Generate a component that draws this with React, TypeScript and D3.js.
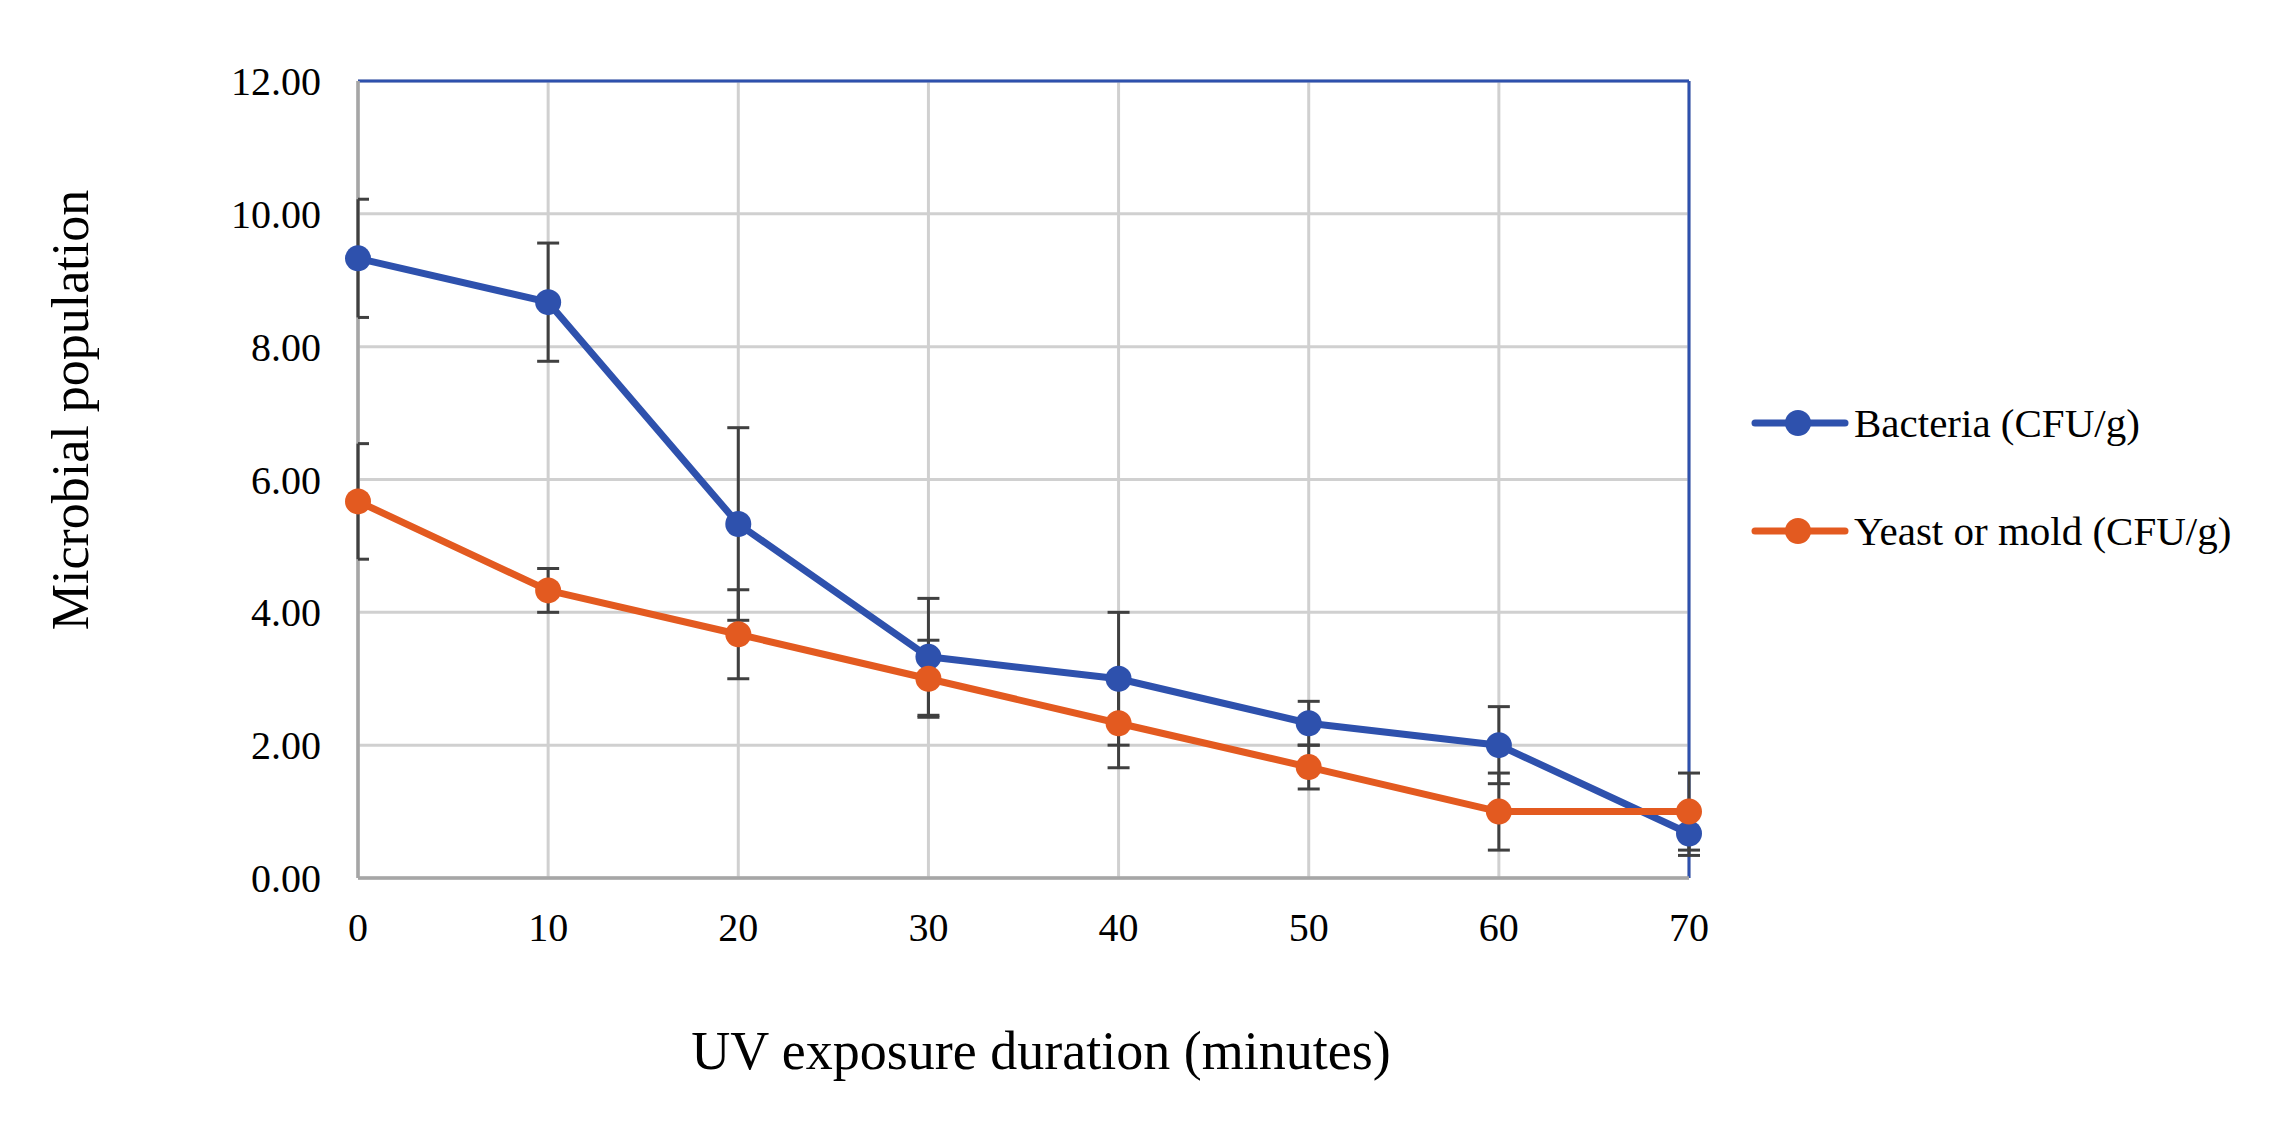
import React from "react";
import * as d3 from "d3";

const minutes = [0, 10, 20, 30, 40, 50, 60, 70];
const bacteria = [9.33, 8.67, 5.33, 3.33, 3.0, 2.33, 2.0, 0.67];
const bacteriaErr = [0.89, 0.89, 1.45, 0.88, 1.0, 0.33, 0.58, 0.33];
const yeast = [5.67, 4.33, 3.67, 3.0, 2.33, 1.67, 1.0, 1.0];
const yeastErr = [0.87, 0.33, 0.67, 0.58, 0.67, 0.33, 0.58, 0.58];
const yTicks = [0, 2, 4, 6, 8, 10, 12];
const xTicks = [0, 10, 20, 30, 40, 50, 60, 70];

const seriesNames = ["Bacteria (CFU/g)", "Yeast or mold (CFU/g)"];
const seriesColors = ["#2E51AD", "#E35A20"];

const W = 2271;
const H = 1141;
const FONT = "'Liberation Serif', 'Times New Roman', serif";

export default function App() {
  const x = d3.scaleLinear().domain([0, 70]).range([358, 1689]);
  const y = d3.scaleLinear().domain([0, 12]).range([878, 81]);
  const series = [
    { name: seriesNames[0], color: seriesColors[0], values: bacteria, err: bacteriaErr },
    { name: seriesNames[1], color: seriesColors[1], values: yeast, err: yeastErr },
  ];
  const line = d3
    .line<number>()
    .x((_, i) => x(minutes[i]))
    .y((d) => y(d));
  const [x0, x1] = x.range();
  const [y0, y1] = y.range();
  const cap = 11;

  return (
    <div style={{ position: "absolute", left: 0, top: 0, background: "#fff" }}>
      <svg width={W} height={H} style={{ display: "block" }} fontFamily={FONT}>
        <rect x={0} y={0} width={W} height={H} fill="#fff" />
        {/* grid */}
        {yTicks.map((t) => (
          <line key={"gy" + t} x1={x0} x2={x1} y1={y(t)} y2={y(t)} stroke="#D0D0D0" strokeWidth={3} />
        ))}
        {xTicks.map((t) => (
          <line key={"gx" + t} x1={x(t)} x2={x(t)} y1={y0} y2={y1} stroke="#D0D0D0" strokeWidth={3} />
        ))}
        {/* plot border top/right */}
        <line x1={x0} x2={x1} y1={y1} y2={y1} stroke="#2E51AD" strokeWidth={3} />
        <line x1={x1} x2={x1} y1={y1} y2={y0} stroke="#2E51AD" strokeWidth={3} />
        {/* axes */}
        <line x1={x0} x2={x0} y1={y1} y2={y0} stroke="#A6A6A6" strokeWidth={3.5} />
        <line x1={x0} x2={x1} y1={y0} y2={y0} stroke="#A6A6A6" strokeWidth={3.5} />
        {/* y tick labels */}
        {yTicks.map((t) => (
          <text key={"ty" + t} x={321} y={y(t)} dy="0.35em" textAnchor="end" fontSize={40} fill="#000">
            {t.toFixed(2)}
          </text>
        ))}
        {/* x tick labels */}
        {xTicks.map((t) => (
          <text key={"tx" + t} x={x(t)} y={927} dy="0.35em" textAnchor="middle" fontSize={40} fill="#000">
            {t}
          </text>
        ))}
        {/* error bars */}
        {series.map((s, si) =>
          s.values.map((v, i) => {
            const cx = x(minutes[i]);
            const top = y(v + s.err[i]);
            const bot = y(v - s.err[i]);
            const cl = Math.max(cx - cap, x0);
            return (
              <g key={"e" + si + "-" + i} stroke="#404040" strokeWidth={3}>
                <line x1={cx} x2={cx} y1={top} y2={bot} />
                <line x1={cl} x2={cx + cap} y1={top} y2={top} />
                <line x1={cl} x2={cx + cap} y1={bot} y2={bot} />
              </g>
            );
          })
        )}
        {/* lines + markers */}
        {series.map((s, si) => (
          <g key={"s" + si}>
            <path d={line(s.values) || ""} fill="none" stroke={s.color} strokeWidth={7} strokeLinejoin="round" />
            {s.values.map((v, i) => (
              <circle key={i} cx={x(minutes[i])} cy={y(v)} r={13} fill={s.color} />
            ))}
          </g>
        ))}
        {/* legend */}
        {series.map((s, si) => {
          const ly = 423 + si * 108;
          return (
            <g key={"l" + si}>
              <line x1={1755} x2={1845} y1={ly} y2={ly} stroke={s.color} strokeWidth={7} strokeLinecap="round" />
              <circle cx={1798} cy={ly} r={13} fill={s.color} />
              <text x={1854} y={ly} dy="0.35em" fontSize={41} fill="#000">
                {s.name}
              </text>
            </g>
          );
        })}
        {/* axis titles */}
        <text x={1041} y={1050} dy="0.35em" textAnchor="middle" fontSize={54} fill="#000">
          UV exposure duration (minutes)
        </text>
        <text
          transform={`translate(70,410) rotate(-90)`}
          dy="0.35em"
          textAnchor="middle"
          fontSize={52}
          fill="#000"
        >
          Microbial population
        </text>
      </svg>
    </div>
  );
}
